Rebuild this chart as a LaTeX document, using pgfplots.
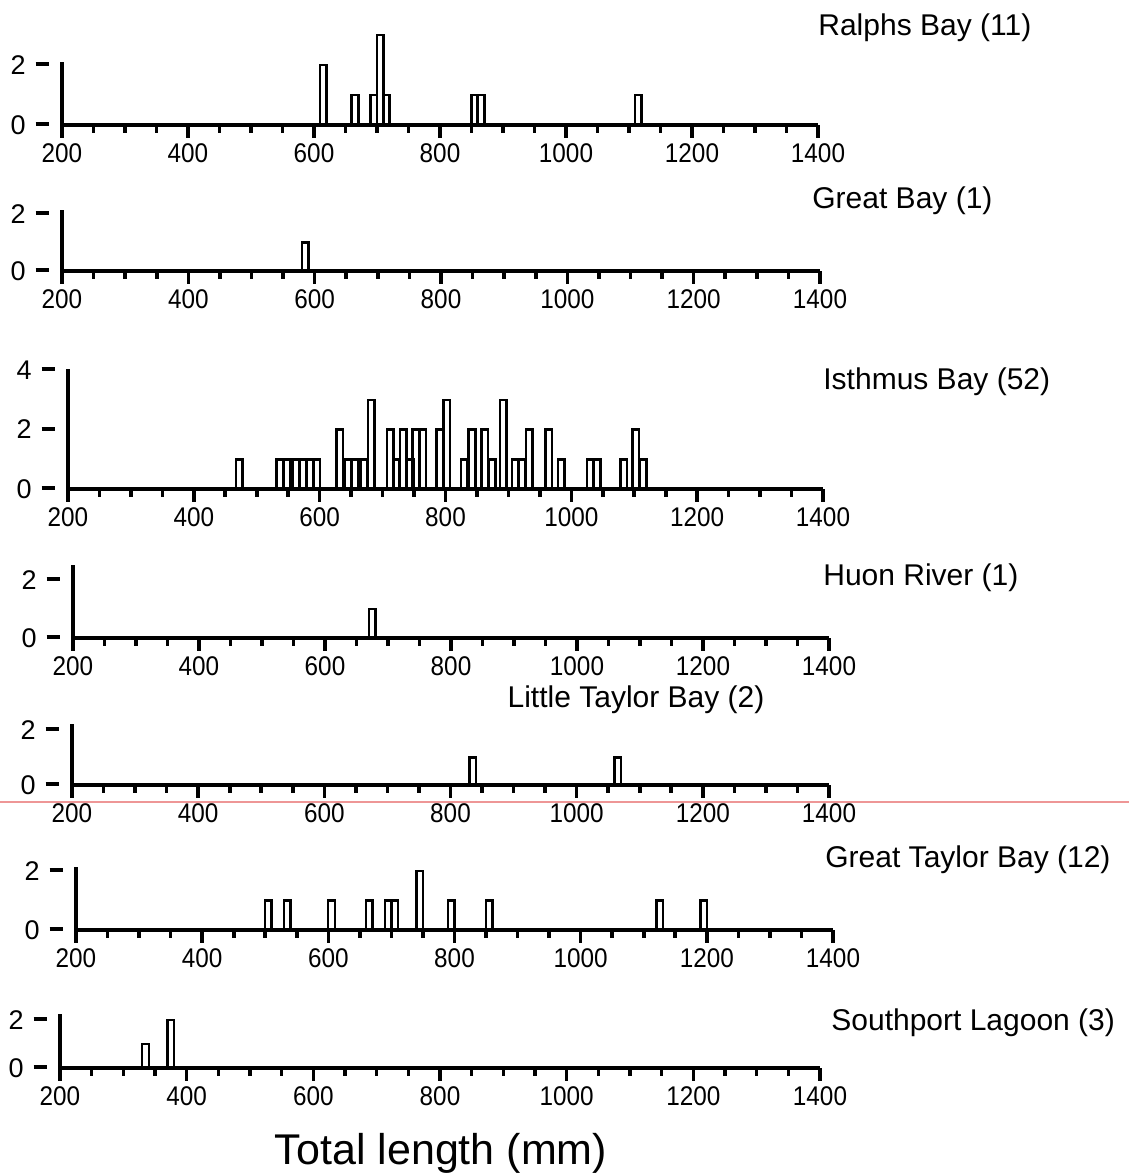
\documentclass[border=0pt]{standalone}
\usepackage{fontspec}
\setmainfont{Liberation Sans}
\usepackage{graphicx}
\usepackage{pgfplots}
\pgfplotsset{compat=1.18}

\definecolor{scanline}{RGB}{238,150,150}

\pgfplotsset{
  lenpanel/.style={
    scale only axis, axis lines=left,
    axis line style={-, line width=1.9pt},
    xmin=200, xmax=1400, ymin=0, clip=false,
    xtick={200,400,...,1400}, minor xtick={250,300,...,1350},
    tick align=outside, major tick length=6.5pt, minor tick length=4pt,
    xtick style={line width=1.8pt, black},
    ytick style={draw=none},
    /pgf/number format/assume math mode=true,
    /pgf/number format/1000 sep={},
    xticklabel style={font=\fontsize{13.5}{15}\selectfont, inner sep=2.5pt},
    xticklabel={\scalebox{0.9}[1]{\pgfmathprintnumber{\tick}}},
    yticklabel style={font=\fontsize{13.5}{15}\selectfont, inner sep=0pt},
    yticklabel={\pgfmathprintnumber{\tick}\hspace{5pt}\rule[4pt]{6.5pt}{2pt}},
    anchor=south west,
  },
  bars/.style={ybar, bar width=10.5, draw=black, fill=none, line width=1.3pt},
}

\newcommand{\ttl}[1]{\fontsize{15}{18}\selectfont #1}

\begin{document}
\begin{tikzpicture}
\useasboundingbox (0,0) rectangle (564.5pt,586.5pt);

% Ralphs Bay
\begin{axis}[lenpanel, at={(31pt,524pt)}, width=378pt, height=31.5pt, ymax=2.1, ytick={0,2}]
\addplot[bars] coordinates {(615,2) (665,1) (695,1) (705,3) (715,1) (855,1) (865,1) (1115,1)};
\end{axis}
\node[anchor=west, inner sep=0pt] at (409pt,572.5pt) {\ttl{Ralphs Bay (11)}};

% Great Bay
\begin{axis}[lenpanel, at={(31pt,451pt)}, width=379pt, height=30.6pt, ymax=2.15, ytick={0,2}]
\addplot[bars] coordinates {(585,1)};
\end{axis}
\node[anchor=west, inner sep=0pt] at (406pt,486pt) {\ttl{Great Bay (1)}};

% Isthmus Bay
\begin{axis}[lenpanel, at={(34pt,342pt)}, width=377.5pt, height=60.2pt, ymax=4.05, ytick={0,2,4}]
\addplot[bars] coordinates {
  (472,1) (537,1) (548,1) (563,1) (574,1) (584,1) (595,1)
  (632,2) (645,1) (656,1) (671,1) (682,3)
  (712,2) (722,1) (733,2) (744,1) (753,2) (764,2)
  (791,2) (802,3) (830,1) (842,2) (862,2) (874,1) (892,3)
  (911,1) (921,1) (933,2) (964,2) (984,1)
  (1030,1) (1041,1) (1083,1) (1102,2) (1114,1)};
\end{axis}
\node[anchor=west, inner sep=0pt] at (411.5pt,395.5pt) {\ttl{Isthmus Bay (52)}};

% Huon River
\begin{axis}[lenpanel, at={(36.5pt,267.5pt)}, width=378pt, height=36.25pt, ymax=2.5, ytick={0,2}]
\addplot[bars] coordinates {(675,1)};
\end{axis}
\node[anchor=west, inner sep=0pt] at (411.5pt,297.5pt) {\ttl{Huon River (1)}};

% Little Taylor Bay
\begin{axis}[lenpanel, at={(36pt,194pt)}, width=378.5pt, height=30.25pt, ymax=2.2, ytick={0,2}]
\addplot[bars] coordinates {(835,1) (1065,1)};
\end{axis}
\node at (318pt,236.5pt) {\ttl{Little Taylor Bay (2)}};

\draw[scanline, line width=0.6pt] (0,185.5pt) -- (564.5pt,185.5pt);

% Great Taylor Bay
\begin{axis}[lenpanel, at={(38pt,121.5pt)}, width=378.5pt, height=31.7pt, ymax=2.15, ytick={0,2}]
\addplot[bars] coordinates {(505,1) (535,1) (605,1) (665,1) (695,1) (705,1) (745,2) (795,1) (855,1) (1125,1) (1195,1)};
\end{axis}
\node[anchor=west, inner sep=0pt] at (412.5pt,156.5pt) {\ttl{Great Taylor Bay (12)}};

% Southport Lagoon
\begin{axis}[lenpanel, at={(30pt,52.5pt)}, width=380pt, height=27pt, ymax=2.25, ytick={0,2}]
\addplot[bars] coordinates {(335,1) (375,2)};
\end{axis}
\node[anchor=west, inner sep=0pt] at (415.5pt,75pt) {\ttl{Southport Lagoon (3)}};

\node at (220.5pt,10pt) {\fontsize{21.5}{24}\selectfont Total length (mm)};
\end{tikzpicture}
\end{document}
